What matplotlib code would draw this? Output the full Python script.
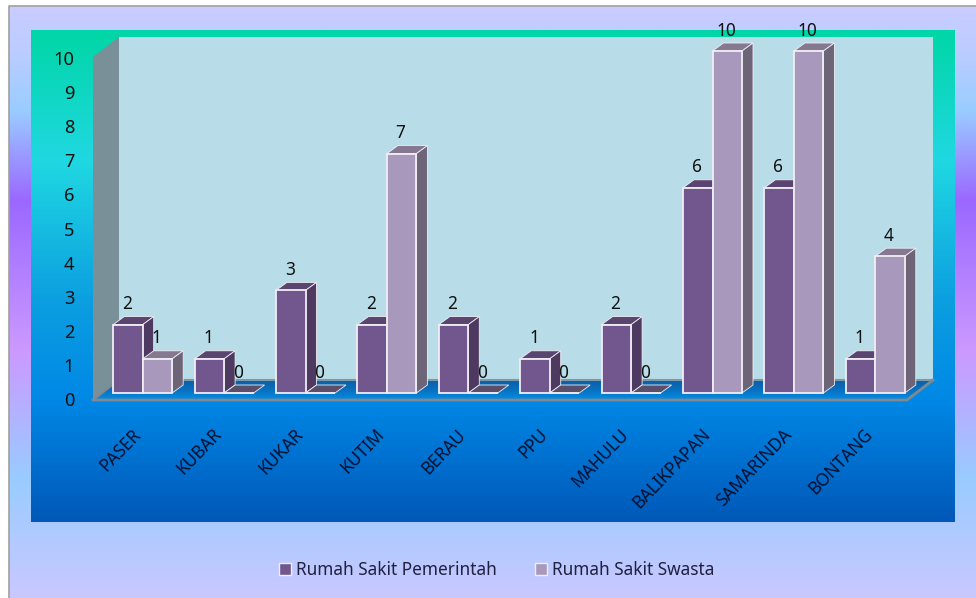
import numpy as np
import matplotlib
matplotlib.use('Agg')
import matplotlib.pyplot as plt
from matplotlib.colors import LinearSegmentedColormap
from matplotlib.patches import Polygon, Patch, Rectangle

categories = ['PASER', 'KUBAR', 'KUKAR', 'KUTIM', 'BERAU', 'PPU', 'MAHULU',
              'BALIKPAPAN', 'SAMARINDA', 'BONTANG']
pemerintah = [2, 1, 3, 2, 2, 1, 2, 6, 6, 1]
swasta = [1, 0, 0, 7, 0, 0, 0, 10, 10, 4]
yticks = [0, 1, 2, 3, 4, 5, 6, 7, 8, 9, 10]
names = ['Rumah Sakit Pemerintah', 'Rumah Sakit Swasta']

plt.rcParams['font.family'] = ['Noto Sans', 'DejaVu Sans']
W, H = 976, 598
fig = plt.figure(figsize=(W/100, H/100), dpi=100)
fig.patch.set_facecolor('white')


def pxrect(x0, ytop, x1, ybot):
    return [x0/W, 1-ybot/H, (x1-x0)/W, (ybot-ytop)/H]


def ramp(stops, top, bottom):
    pos = [(y-top)/(bottom-top) for y, c in stops]
    cm = LinearSegmentedColormap.from_list('g', list(zip(pos, [c for y, c in stops])))
    return cm(np.linspace(0, 1, 256))[:, None, :]


# page, panel and walls in pixel coordinates
bg = fig.add_axes([0, 0, 1, 1], zorder=0)
bg.axis('off')
page = [(6, '#c9ccff'), (50, '#bccdff'), (110, '#9accff'), (200, '#9a68ff'),
        (350, '#cc99ff'), (480, '#99ccff'), (598, '#c9c8ff')]
bg.imshow(ramp(page, 6, 598), extent=(9, W, H, 6), aspect='auto', zorder=1)
panel = [(30, '#00d6a6'), (160, '#20d8e2'), (300, '#0c9fe0'), (400, '#0088e6'), (522, '#0058b8')]
bg.imshow(ramp(panel, 30, 522), extent=(31, 955, 522, 30), aspect='auto', zorder=2)
bg.plot([9, 9, W], [H, 6, 6], color='#a0a0a0', lw=1.2, zorder=3)
bg.add_patch(Rectangle((119, 37), 814, 343, fc='#b8dde8', ec='none', zorder=3))
bg.add_patch(Polygon([(93, 57), (119, 37), (119, 380), (93, 400)], fc='#7a9098', ec='none', zorder=3))
im = bg.imshow(ramp([(380, '#0a5ea6'), (390, '#0a70c0'), (400, '#0090e8')], 380, 400),
               extent=(93, 933, 400, 380), aspect='auto', zorder=3)
im.set_clip_path(Polygon([(93, 400), (119, 380), (933, 380), (907, 400)], transform=bg.transData))
bg.plot([119, 933], [380, 380], color='#7f9aa6', lw=1.5, zorder=4)
bg.plot([93, 907, 933], [400, 400, 380], color='#808890', lw=2, zorder=4)
bg.plot([93, 119], [400, 380], color='#808890', lw=1.5, zorder=4)
bg.set_xlim(0, W)
bg.set_ylim(H, 0)

# front plane: carries the axis labels
front = fig.add_axes(pxrect(93, 58, 907, 399), zorder=1)
front.patch.set_alpha(0)
front.set_xlim(-0.5, 9.5)
front.set_ylim(0, 10)
for s in front.spines.values():
    s.set_visible(False)
front.tick_params(length=0)
front.set_yticks(yticks)
front.set_yticklabels([str(v) for v in yticks], fontsize=13.2, color='#101010')
front.tick_params(axis='y', pad=13.5)
x = np.arange(len(categories))
front.set_xticks(x-0.03)
front.set_xticklabels(categories, rotation=46, ha='right', va='top', rotation_mode='anchor',
                      fontsize=12.4, color='#001030')
front.tick_params(axis='x', pad=19)

# bar plane, a little behind the front plane
ax = fig.add_axes(pxrect(102, 51, 916, 393), zorder=2)
ax.patch.set_alpha(0)
ax.axis('off')
ax.set_xlim(-0.5, 9.5)
ax.set_ylim(0, 10)

bw = 29.5/81.4
dx = 11/81.4
dy = 8/34.2
styles = [('#72578f', '#5a4470', '#4e3a60'), ('#a899bc', '#857890', '#6e6478')]
edge = '#f0eef4'
for k, vals in enumerate([pemerintah, swasta]):
    xs = x - bw + k*bw
    face, top, side = styles[k]
    for xi, v in zip(xs, vals):
        z = 3 + k
        top_col = top if v > 0 else '#5a4f68'
        ax.add_patch(Polygon([(xi, v), (xi+bw, v), (xi+bw+dx, v+dy), (xi+dx, v+dy)],
                             fc=top_col, ec=edge, lw=0.6, zorder=z, clip_on=False))
        if v > 0:
            ax.add_patch(Polygon([(xi+bw, 0), (xi+bw+dx, dy), (xi+bw+dx, v+dy), (xi+bw, v)],
                                 fc=side, ec=edge, lw=0.6, zorder=z, clip_on=False))
    ax.bar(xs, vals, width=bw, align='edge', color=face, edgecolor=edge, linewidth=1.3,
           zorder=5+k, clip_on=False)
    for xi, v in zip(xs, vals):
        ax.annotate(str(v), (xi+bw/2, v), xytext=(-1, 20.5), textcoords='offset pixels',
                    ha='center', va='center', fontsize=12.4, color='#101010', zorder=9,
                    annotation_clip=False)

handles = [Patch(fc=styles[i][0], ec=edge, lw=1) for i in range(2)]
fig.legend(handles, names, loc='center', bbox_to_anchor=(496.5/W, 1-570/H), ncol=2, frameon=False,
           fontsize=12.4, handlelength=0.7, handleheight=0.7, handletextpad=0.3,
           columnspacing=2.2, labelcolor='#202040')

fig.savefig('out.png', dpi=100)
